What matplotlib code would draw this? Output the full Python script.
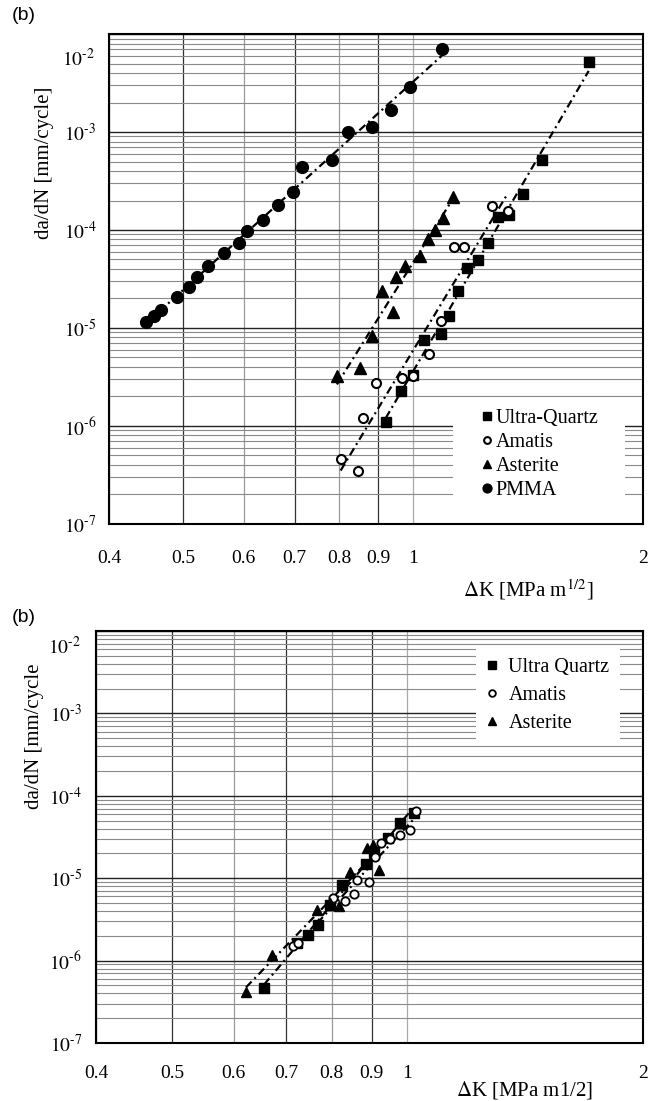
import numpy as np
import matplotlib
matplotlib.use("Agg")
import matplotlib.pyplot as plt
from matplotlib.patches import Rectangle
from matplotlib.ticker import FixedLocator, NullFormatter, LogLocator

plt.rcParams['font.family'] = ['Liberation Serif', 'DejaVu Serif']
plt.rcParams['mathtext.fontset'] = 'stix'

# ---- upper panel: four materials ----
uq1_dk = [0.921, 0.964, 0.999, 1.033, 1.087, 1.114, 1.145, 1.176, 1.215, 1.253, 1.291, 1.335, 1.392, 1.474, 1.698]
uq1_rate = [1.10e-6, 2.28e-6, 3.31e-6, 7.55e-6, 8.69e-6, 1.33e-5, 2.39e-5, 4.10e-5, 4.94e-5, 7.36e-5, 1.36e-4, 1.42e-4, 2.33e-4, 5.18e-4, 5.18e-3]

am1_dk = [0.804, 0.847, 0.860, 0.894, 0.967, 0.999, 1.049, 1.087, 1.131, 1.165, 1.268, 1.330]
am1_rate = [4.60e-7, 3.48e-7, 1.21e-6, 2.75e-6, 3.09e-6, 3.24e-6, 5.43e-6, 1.18e-5, 6.72e-5, 6.72e-5, 1.76e-4, 1.56e-4]

as1_dk = [0.795, 0.852, 0.883, 0.910, 0.941, 0.950, 0.976, 1.021, 1.046, 1.068, 1.094, 1.127]
as1_rate = [3.24e-6, 3.91e-6, 8.28e-6, 2.39e-5, 1.46e-5, 3.31e-5, 4.30e-5, 5.43e-5, 8.09e-5, 1.00e-4, 1.32e-4, 2.17e-4]

pm1_dk = [0.447, 0.458, 0.468, 0.491, 0.509, 0.521, 0.539, 0.566, 0.592, 0.606, 0.636, 0.666,
          0.696, 0.715, 0.783, 0.822, 0.883, 0.935, 0.990, 1.090]
pm1_rate = [1.15e-5, 1.32e-5, 1.53e-5, 2.07e-5, 2.62e-5, 3.31e-5, 4.30e-5, 5.82e-5, 7.36e-5, 9.77e-5,
            1.26e-4, 1.80e-4, 2.44e-4, 4.40e-4, 5.18e-4, 1.00e-3, 1.12e-3, 1.67e-3, 2.88e-3, 7.03e-3]

# ---- lower panel: three composites ----
uq2_dk = [0.656, 0.722, 0.746, 0.768, 0.796, 0.825, 0.885, 0.906, 0.944, 0.978, 1.019]
uq2_rate = [4.64e-7, 1.64e-6, 2.05e-6, 2.70e-6, 4.73e-6, 8.26e-6, 1.49e-5, 2.08e-5, 3.08e-5, 4.68e-5, 6.18e-5]

am2_dk = [0.714, 0.725, 0.803, 0.832, 0.854, 0.862, 0.893, 0.909, 0.925, 0.950, 0.978, 1.007, 1.025]
am2_rate = [1.50e-6, 1.64e-6, 5.75e-6, 5.28e-6, 6.42e-6, 9.50e-6, 9.00e-6, 1.81e-5, 2.67e-5, 2.99e-5, 3.34e-5, 3.85e-5, 6.55e-5]

as2_dk = [0.622, 0.671, 0.766, 0.796, 0.817, 0.844, 0.888, 0.904, 0.920]
as2_rate = [4.16e-7, 1.17e-6, 4.11e-6, 5.00e-6, 4.61e-6, 1.19e-5, 2.33e-5, 2.50e-5, 1.26e-5]

x_ticks = [0.4, 0.5, 0.6, 0.7, 0.8, 0.9, 1, 2]
x_ticklabels = ['0.4', '0.5', '0.6', '0.7', '0.8', '0.9', '1', '2']
y_ticks = [1e-7, 1e-6, 1e-5, 1e-4, 1e-3, 1e-2]
y_ticklabels = [r'$10^{\text{-}7}$', r'$10^{\text{-}6}$', r'$10^{\text{-}5}$',
                r'$10^{\text{-}4}$', r'$10^{\text{-}3}$', r'$10^{\text{-}2}$']

FIT_DASHES = (3.6, 1.8, 0.9, 1.8)


def fit_line(ax, dk, rate):
    # Paris-law trend line (straight line in log-log space)
    lx, ly = np.log10(dk), np.log10(rate)
    k, c = np.polyfit(lx, ly, 1)
    xs = np.array([min(dk), max(dk)])
    line, = ax.plot(xs, 10 ** (c + k * np.log10(xs)), color='black', lw=1.6, zorder=3)
    line.set_dashes(FIT_DASHES)


def setup_axes(ax, top_label_shift, xlabel, xlabel_pos, ylabel, ylabel_pos, xpad, ypad):
    ax.set_xscale('log')
    ax.set_yscale('log')
    ax.set_xlim(0.4, 2)
    ax.set_ylim(1e-7, 1e-2)

    ax.xaxis.set_major_locator(FixedLocator(x_ticks))
    ax.set_xticklabels(x_ticklabels)
    ax.xaxis.set_minor_formatter(NullFormatter())
    ax.xaxis.set_minor_locator(FixedLocator([]))
    ax.yaxis.set_major_locator(FixedLocator(y_ticks))
    ax.set_yticklabels(y_ticklabels[:-1] + [''])
    ax.yaxis.set_minor_locator(LogLocator(base=10, subs=np.arange(2, 10)))
    ax.yaxis.set_minor_formatter(NullFormatter())

    ax.tick_params(which='both', length=0)
    ax.tick_params(axis='x', labelsize=14, pad=xpad)
    ax.tick_params(axis='y', labelsize=14, pad=ypad)

    ax.set_axisbelow(True)
    ax.grid(True, axis='y', which='major', color='#222222', lw=1.0)
    ax.grid(True, axis='y', which='minor', color='#8a8a8a', lw=0.8)
    ax.grid(True, axis='x', which='major', color='#333333', lw=0.9)
    shades = ['#333333', '#333333', '#999999', '#333333', '#999999', '#333333', '#aaaaaa', '#333333']
    for gl, c in zip(ax.xaxis.get_gridlines(), shades):
        gl.set_color(c)

    # top decade label sits a little lower than its grid line
    ax.annotate(y_ticklabels[-1], xy=(0, 1e-2), xycoords=('axes fraction', 'data'),
                xytext=(-ypad - 1, -top_label_shift), textcoords='offset points',
                ha='right', va='center_baseline', fontsize=14)

    for sp in ax.spines.values():
        sp.set_linewidth(1.5)

    ax.set_xlabel(xlabel, fontsize=15)
    ax.xaxis.set_label_coords(*xlabel_pos)
    ax.xaxis.label.set_va('center')
    ax.set_ylabel(ylabel, fontsize=15)
    ax.yaxis.set_label_coords(*ylabel_pos)
    ax.yaxis.label.set_va('center')


def legend_backdrop(ax, x0, y0, x1, y1):
    # white block that hides the grid behind the legend
    ax.add_patch(Rectangle((x0, y0), x1 - x0, y1 - y0, transform=ax.transAxes,
                           facecolor='white', edgecolor='none', zorder=1.5))


fig = plt.figure(figsize=(6.52, 11.01), dpi=100)

# upper panel
ax1 = fig.add_axes([0.1672, 0.5241, 0.8190, 0.4450])
setup_axes(ax1, 16.5, r'$\Delta$K [MPa m$^{1/2}$]', (0.785, -0.135),
           'da/dN [mm/cycle]', (-0.120, 0.737), 19, 9)

ax1.plot(uq1_dk, uq1_rate, 's', color='black', ms=7.5, label='Ultra-Quartz', zorder=4)
ax1.plot(am1_dk, am1_rate, 'o', mfc='white', mec='black', mew=1.5, ms=6.5, label='Amatis', zorder=4)
ax1.plot(as1_dk, as1_rate, '^', color='black', ms=8, label='Asterite', zorder=4)
ax1.plot(pm1_dk, pm1_rate, 'o', color='black', ms=8.5, label='PMMA', zorder=4)
for dk, rate in [(uq1_dk, uq1_rate), (am1_dk, am1_rate), (as1_dk, as1_rate), (pm1_dk, pm1_rate)]:
    fit_line(ax1, dk, rate)

legend_backdrop(ax1, 0.644, 0.045, 0.966, 0.250)
leg1 = ax1.legend(loc='upper left', bbox_to_anchor=(0.697, 0.235), fontsize=14.5,
                  frameon=False, markerscale=0.75, handlelength=0.6, handletextpad=0.1,
                  labelspacing=0.25, borderpad=0, borderaxespad=0)
leg1.set_zorder(5)

# lower panel
ax2 = fig.add_axes([0.1472, 0.0527, 0.8390, 0.3742])
setup_axes(ax2, 10, r'$\Delta$K [MPa m1/2]', (0.784, -0.114),
           'da/dN [mm/cycle', (-0.1115, 0.745), 16, 10)

ax2.plot(uq2_dk, uq2_rate, 's', color='black', ms=6.5, label='Ultra Quartz', zorder=4)
ax2.plot(am2_dk, am2_rate, 'o', mfc='white', mec='black', mew=1.3, ms=6, label='Amatis', zorder=4)
ax2.plot(as2_dk, as2_rate, '^', color='black', ms=7, label='Asterite', zorder=4)
for dk, rate in [(uq2_dk, uq2_rate), (am2_dk, am2_rate), (as2_dk, as2_rate)]:
    fit_line(ax2, dk, rate)

leg2 = ax2.legend(loc='upper left', bbox_to_anchor=(0.695, 0.959), fontsize=14.5,
                  frameon=True, fancybox=False, edgecolor='none', facecolor='white',
                  framealpha=1, markerscale=0.8, handlelength=0.6, handletextpad=0.5,
                  labelspacing=0.45, borderpad=0.5, borderaxespad=0)
leg2.set_zorder(5)

for ypos in (0.9855, 0.4395):
    fig.text(0.018, ypos, '(b)', fontsize=14, family=['Liberation Sans', 'DejaVu Sans'],
             ha='left', va='center')

fig.savefig('out.png', dpi=100)
